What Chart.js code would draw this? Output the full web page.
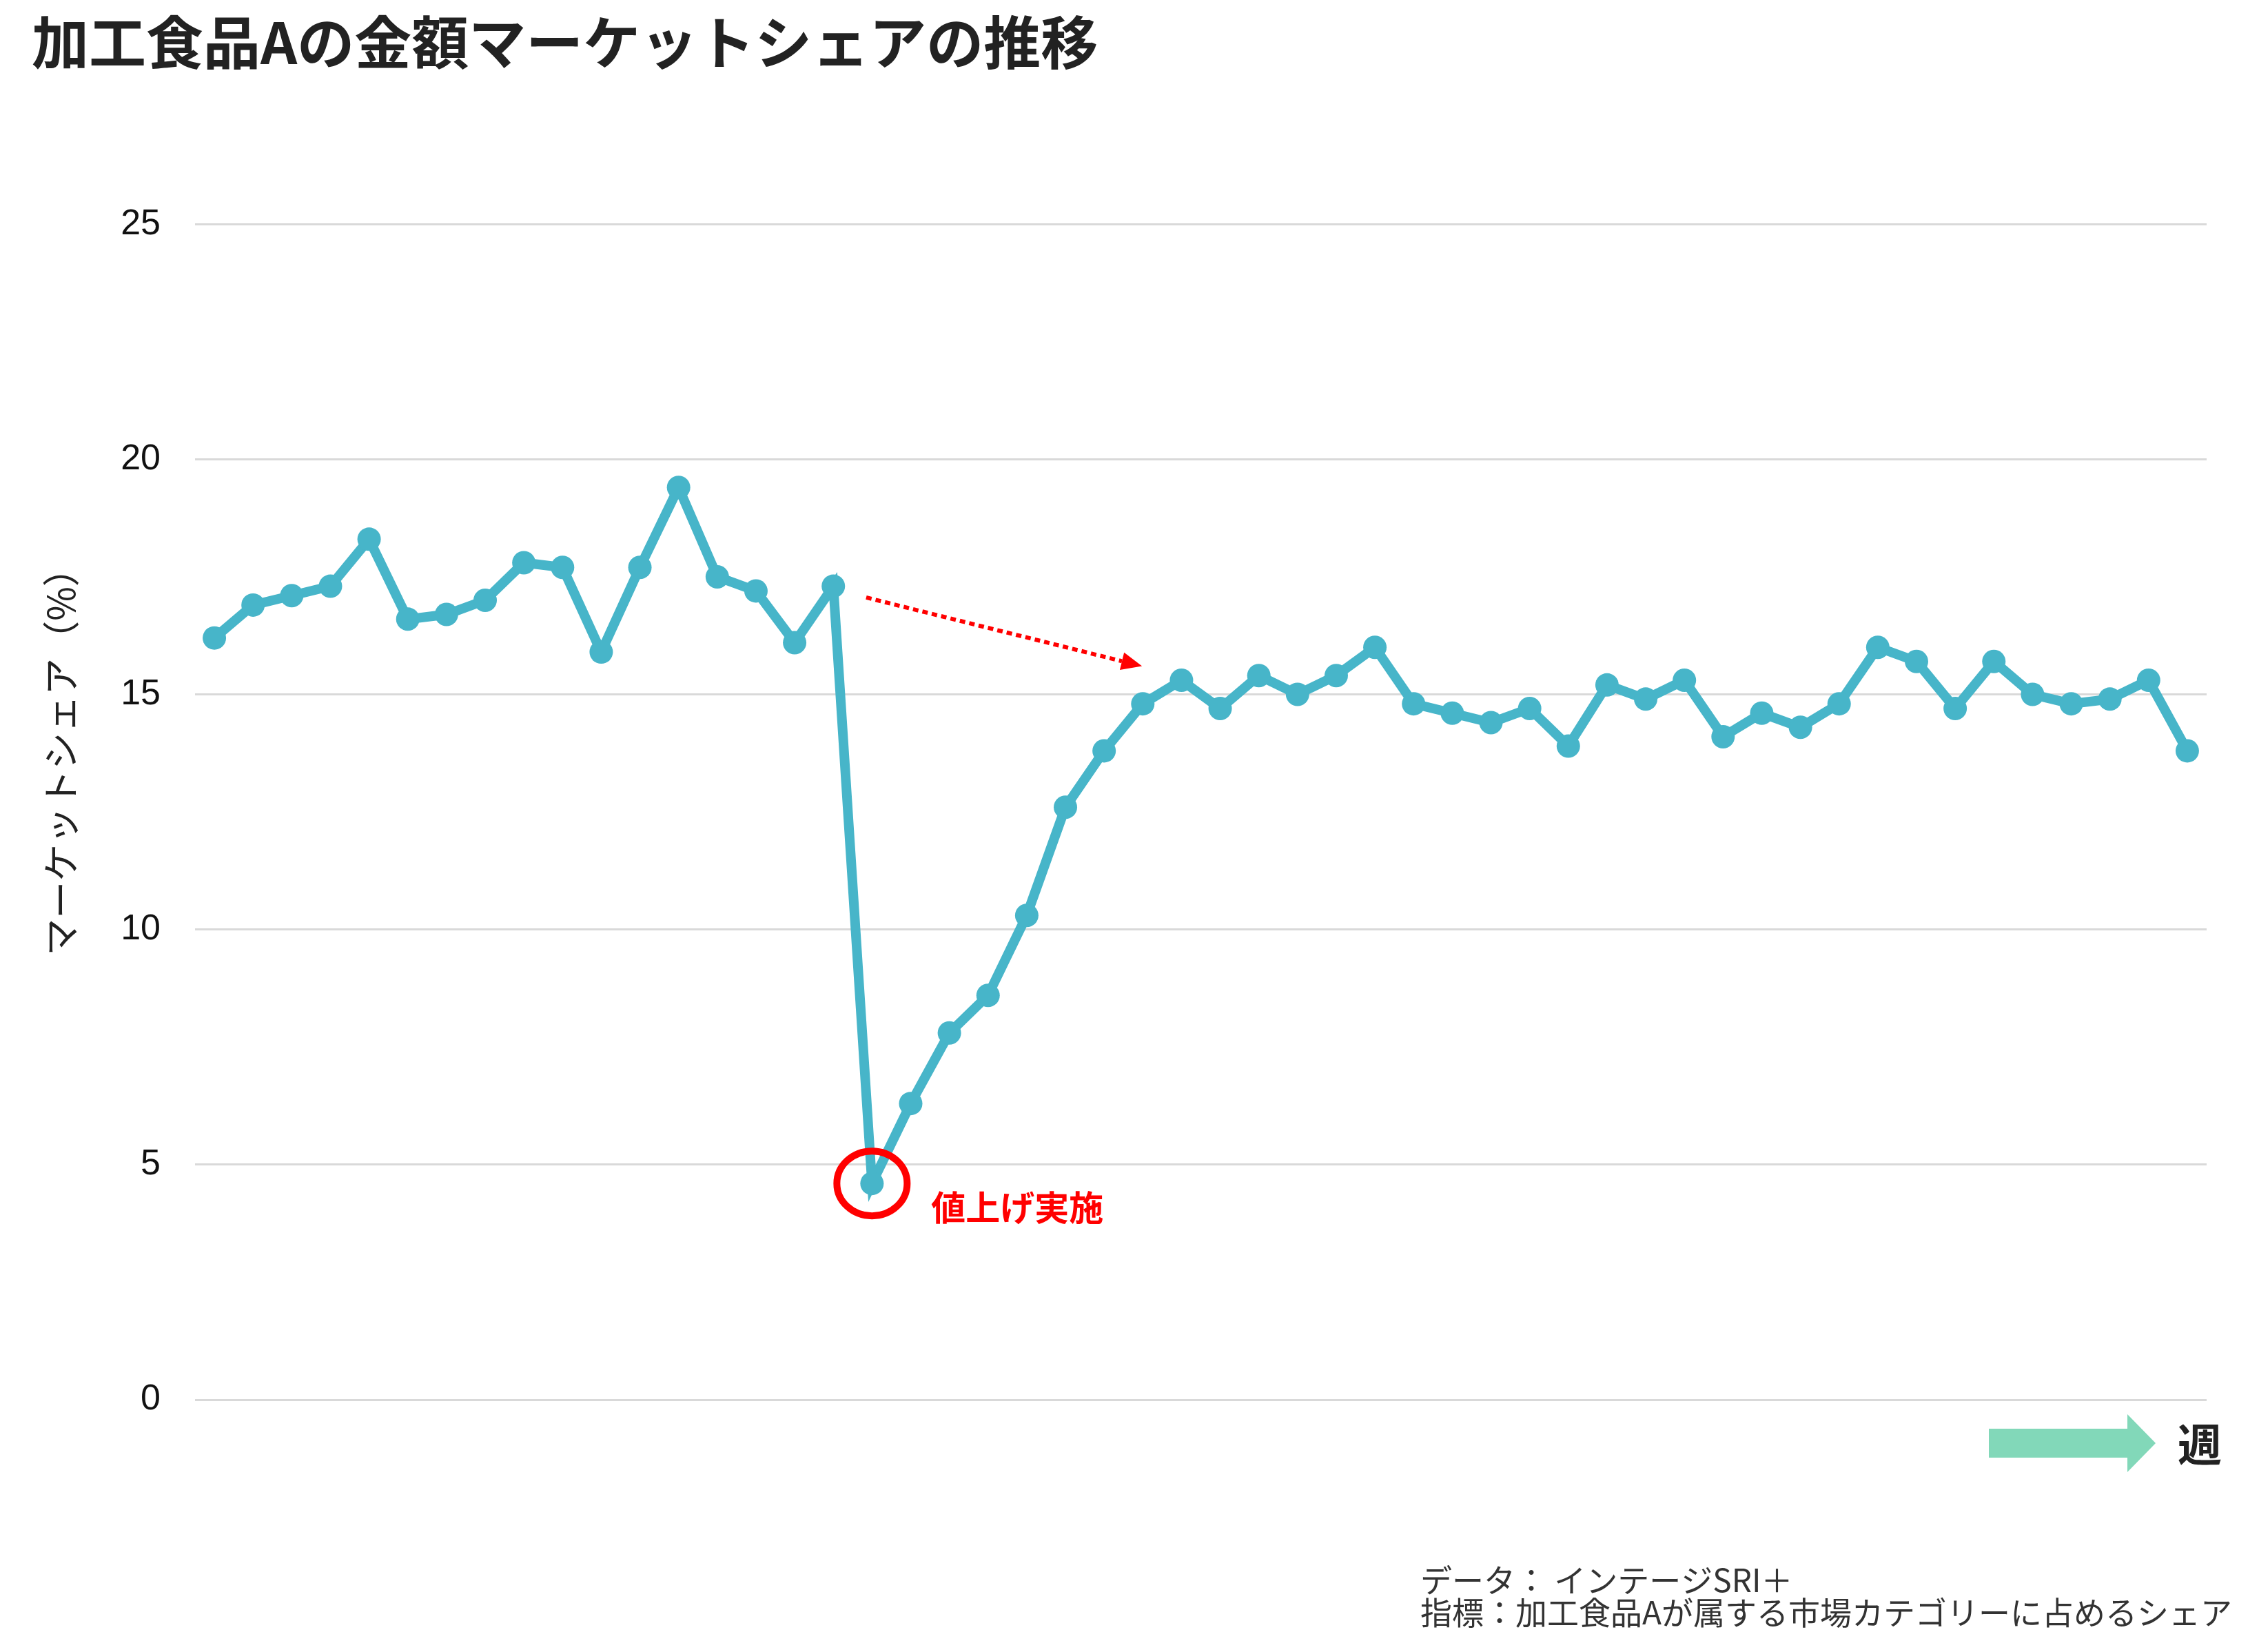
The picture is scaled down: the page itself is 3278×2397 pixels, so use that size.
<!DOCTYPE html>
<html lang="ja">
<head>
<meta charset="utf-8">
<title>加工食品Aの金額マーケットシェアの推移</title>
<script src="https://cdn.jsdelivr.net/npm/chart.js@4.4.1/dist/chart.umd.min.js"></script>
<style>
    html, body { margin: 0; padding: 0; background: #ffffff; }
    #wrap { width: 3278px; height: 2397px; position: relative; }
</style>
</head>
<body>
<div id="wrap"><canvas id="share-chart"></canvas></div>
<script>
// 週 (52 weeks)
const weeks = [
    1, 2, 3, 4, 5, 6, 7, 8, 9, 10, 11, 12, 13,
    14, 15, 16, 17, 18, 19, 20, 21, 22, 23, 24, 25, 26,
    27, 28, 29, 30, 31, 32, 33, 34, 35, 36, 37, 38, 39,
    40, 41, 42, 43, 44, 45, 46, 47, 48, 49, 50, 51, 52,
];

// 金額マーケットシェア (%)
const shareValues = [
    16.2, 16.9, 17.1, 17.3, 18.3, 16.6, 16.7, 17.0, 17.8, 17.7, 15.9, 17.7, 19.4,
    17.5, 17.2, 16.1, 17.3, 4.6, 6.3, 7.8, 8.6, 10.3, 12.6, 13.8, 14.8, 15.3,
    14.7, 15.4, 15.0, 15.4, 16.0, 14.8, 14.6, 14.4, 14.7, 13.9, 15.2, 14.9, 15.3,
    14.1, 14.6, 14.3, 14.8, 16.0, 15.7, 14.7, 15.7, 15.0, 14.8, 14.9, 15.3, 13.8,
];

const yTicks = [0, 5, 10, 15, 20, 25];

// annotations (data coordinates)
const priceUpIndex = 17;
const priceUpLabel = '値上げ実施';
const trendArrowFrom = [16.85, 17.06];
const trendArrowTo = [23.98, 15.6];

const chartTitle = '加工食品Aの金額マーケットシェアの推移';
const yTitle = 'マーケットシェア（%）';
const xTitle = '週';
const footerLines = ['データ： インテージSRI＋', '指標：加工食品Aが属する市場カテゴリーに占めるシェア'];

const lineColor = '#47b5c9';
const jpFont = '"Noto Sans CJK JP", "Noto Sans", sans-serif';

const decorations = {
    id: 'decorations',
    afterDatasetsDraw(chart) {
        const { ctx, chartArea, scales: { x, y } } = chart;
        ctx.save();

        // red circle around the drop
        const px = x.getPixelForValue(priceUpIndex);
        const py = y.getPixelForValue(shareValues[priceUpIndex]);
        ctx.strokeStyle = '#ff0000';
        ctx.lineWidth = 10;
        ctx.beginPath();
        ctx.ellipse(px, py, 51, 47, 0, 0, Math.PI * 2);
        ctx.stroke();

        // label
        ctx.fillStyle = '#ff0000';
        ctx.font = 'bold 50px ' + jpFont;
        ctx.textAlign = 'left';
        ctx.textBaseline = 'middle';
        ctx.fillText(priceUpLabel, x.getPixelForValue(18.53), y.getPixelForValue(4.09));

        // dotted trend arrow
        const x0 = x.getPixelForValue(trendArrowFrom[0]);
        const y0 = y.getPixelForValue(trendArrowFrom[1]);
        const x1 = x.getPixelForValue(trendArrowTo[0]);
        const y1 = y.getPixelForValue(trendArrowTo[1]);
        const ang = Math.atan2(y1 - y0, x1 - x0);
        const headLen = 30;
        const bx = x1 - headLen * Math.cos(ang);
        const by = y1 - headLen * Math.sin(ang);
        ctx.setLineDash([8, 6]);
        ctx.lineWidth = 6;
        ctx.beginPath();
        ctx.moveTo(x0, y0);
        ctx.lineTo(bx, by);
        ctx.stroke();
        ctx.setLineDash([]);
        ctx.beginPath();
        ctx.moveTo(x1, y1);
        ctx.lineTo(bx + 13 * Math.sin(ang), by - 13 * Math.cos(ang));
        ctx.lineTo(bx - 13 * Math.sin(ang), by + 13 * Math.cos(ang));
        ctx.closePath();
        ctx.fill();

        // green week arrow
        const ay = chartArea.bottom + 63;
        const tip = chartArea.right - 74;
        ctx.fillStyle = '#82d8b9';
        ctx.beginPath();
        ctx.moveTo(tip - 242, ay - 21);
        ctx.lineTo(tip - 41, ay - 21);
        ctx.lineTo(tip - 41, ay - 42);
        ctx.lineTo(tip, ay);
        ctx.lineTo(tip - 41, ay + 42);
        ctx.lineTo(tip - 41, ay + 21);
        ctx.lineTo(tip - 242, ay + 21);
        ctx.closePath();
        ctx.fill();

        ctx.fillStyle = '#222222';
        ctx.font = 'bold 64px ' + jpFont;
        ctx.fillText(xTitle, tip + 32, ay + 2);

        // y axis title
        ctx.save();
        ctx.translate(88, 1092);
        ctx.rotate(-Math.PI / 2);
        ctx.textAlign = 'center';
        ctx.font = '54px ' + jpFont;
        ctx.fillText(yTitle, 0, 0);
        ctx.restore();

        // footer
        ctx.fillStyle = '#333333';
        ctx.font = '46px ' + jpFont;
        ctx.textAlign = 'left';
        footerLines.forEach((line, i) => ctx.fillText(line, 2061, 2293 + i * 47));

        ctx.restore();
    }
};

const ctx = document.getElementById('share-chart');

new Chart(ctx, {
    type: 'line',
    data: {
        labels: weeks,
        datasets: [{
            label: 'シェア',
            data: shareValues,
            borderColor: lineColor,
            backgroundColor: lineColor,
            borderWidth: 14,
            pointRadius: 17,
            pointBorderWidth: 0,
            pointBackgroundColor: lineColor,
            pointHoverRadius: 17,
            tension: 0,
            fill: false,
            clip: false,
        }]
    },
    options: {
        responsive: true,
        maintainAspectRatio: false,
        devicePixelRatio: 1,
        animation: false,
        events: [],
        layout: { padding: { left: 46, right: 76, top: 0, bottom: 366 } },
        scales: {
            x: {
                type: 'category',
                offset: true,
                display: false,
            },
            y: {
                min: 0,
                max: 25,
                afterBuildTicks: (scale) => { scale.ticks = yTicks.map(v => ({ value: v })); },
                afterFit: (scale) => { scale.width = 237; },
                border: { display: false },
                grid: { color: '#d9d9d9', lineWidth: 3, drawTicks: false },
                ticks: {
                    padding: 50,
                    color: '#111111',
                    font: { family: '"Liberation Sans", Arial, sans-serif', size: 52 },
                },
            },
        },
        plugins: {
            legend: { display: false },
            tooltip: { enabled: false },
            title: {
                display: true,
                text: chartTitle,
                align: 'start',
                color: '#222222',
                font: { family: jpFont, size: 83, weight: 'bold' },
                padding: { top: 12, bottom: 213.6 },
            },
        },
    },
    plugins: [decorations],
});
</script>
</body>
</html>
